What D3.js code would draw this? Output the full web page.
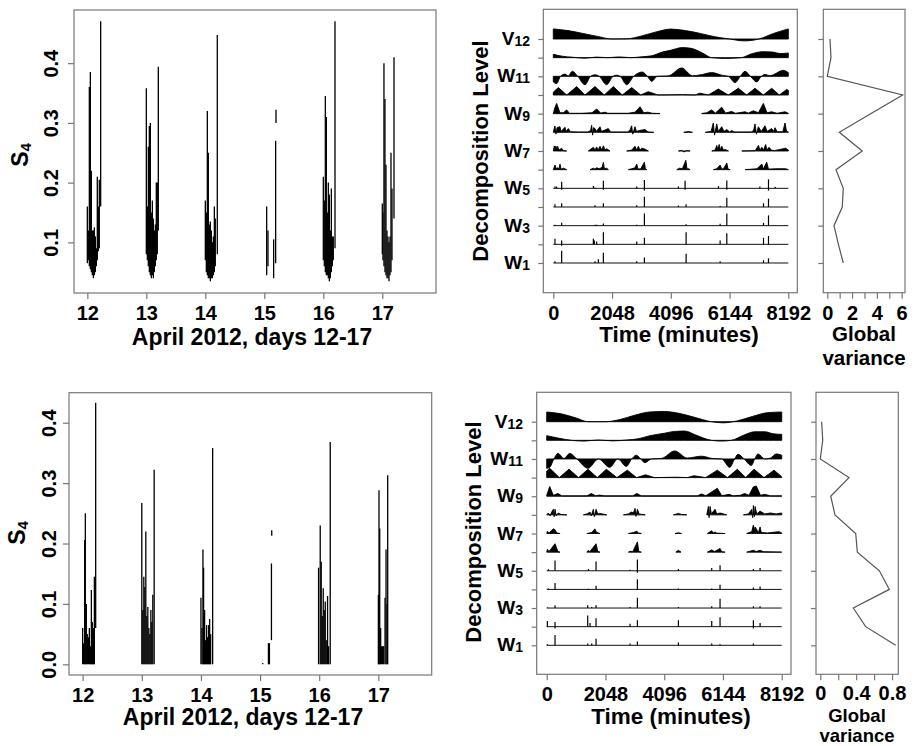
<!doctype html>
<html>
<head>
<meta charset="utf-8">
<title>S4 series and wavelet decomposition</title>
<script src="https://cdn.jsdelivr.net/npm/d3@7"></script>
<style>
  body { margin: 0; background: #fff; }
  svg { display: block; font-family: "Liberation Sans", Arial, sans-serif; font-weight: bold; }
  .frame { fill: none; stroke: #777; stroke-width: 1.2; }
</style>
</head>
<body>
<svg id="fig" width="917" height="746"></svg>
<script>
// ---- S4 series: [day, low, high] envelope columns ----
var s4Top = [
  [12.000,0.065,0.16],[12.017,0.07,0.12],[12.034,0.06,0.36],[12.051,0.055,0.385],[12.068,0.05,0.22],
  [12.085,0.045,0.12],[12.102,0.04,0.12],[12.119,0.045,0.125],[12.136,0.05,0.11],[12.153,0.06,0.09],
  [12.169,0.07,0.21],[12.186,0.085,0.16],[12.203,0.09,0.205],[12.226,0.16,0.47],
  [13.000,0.08,0.358],[13.017,0.07,0.16],[13.034,0.06,0.26],[13.051,0.05,0.295],[13.068,0.045,0.30],
  [13.085,0.04,0.15],[13.102,0.045,0.17],[13.119,0.04,0.14],[13.136,0.05,0.12],[13.153,0.06,0.13],
  [13.169,0.07,0.20],[13.186,0.08,0.20],[13.203,0.12,0.394],
  [14.000,0.07,0.17],[14.017,0.05,0.15],[14.034,0.045,0.32],[14.051,0.04,0.25],[14.068,0.04,0.13],
  [14.085,0.035,0.135],[14.102,0.04,0.12],[14.119,0.04,0.10],[14.136,0.045,0.11],[14.153,0.05,0.16],
  [14.169,0.06,0.14],[14.203,0.08,0.447],
  [15.040,0.045,0.16],[15.062,0.06,0.12],[15.158,0.04,0.105],[15.192,0.065,0.27],[15.198,0.30,0.322],
  [16.000,0.07,0.21],[16.017,0.06,0.17],[16.034,0.05,0.345],[16.051,0.045,0.31],[16.068,0.045,0.15],
  [16.085,0.04,0.20],[16.102,0.035,0.18],[16.119,0.04,0.12],[16.136,0.05,0.19],[16.153,0.06,0.11],
  [16.169,0.07,0.11],[16.198,0.09,0.47],
  [17.000,0.08,0.165],[17.011,0.07,0.15],[17.028,0.06,0.40],[17.045,0.05,0.34],[17.062,0.045,0.23],
  [17.079,0.04,0.12],[17.096,0.04,0.11],[17.113,0.035,0.10],[17.130,0.045,0.11],[17.147,0.05,0.25],
  [17.164,0.07,0.19],[17.198,0.14,0.41]
];
var s4Bottom = [
  [12.000,0,0.06],[12.017,0,0.035],[12.034,0,0.206],[12.045,0,0.25],[12.062,0,0.10],[12.079,0,0.05],
  [12.096,0,0.045],[12.113,0,0.06],[12.130,0,0.03],[12.147,0,0.123],[12.164,0,0.07],[12.181,0,0.06],
  [12.198,0,0.145],[12.220,0.06,0.433],
  [13.000,0,0.267],[13.017,0,0.09],[13.034,0,0.145],[13.051,0,0.128],[13.068,0,0.22],[13.085,0,0.08],
  [13.102,0,0.095],[13.119,0,0.06],[13.136,0,0.05],[13.153,0,0.09],[13.169,0,0.07],[13.186,0,0.115],
  [13.209,0,0.322],
  [14.000,0,0.11],[14.017,0,0.06],[14.034,0,0.19],[14.045,0,0.16],[14.062,0,0.09],[14.079,0,0.04],
  [14.096,0,0.065],[14.113,0,0.045],[14.130,0,0.065],[14.147,0,0.075],[14.164,0,0.05],[14.198,0,0.358],
  [15.045,0,0.002],[15.141,0,0.035],[15.158,0,0.035],[15.192,0.04,0.167],[15.197,0.213,0.222],
  [15.989,0,0.16],[16.017,0,0.23],[16.034,0,0.17],[16.051,0,0.08],[16.068,0,0.126],[16.085,0,0.09],
  [16.102,0,0.104],[16.119,0,0.04],[16.141,0,0.113],[16.158,0,0.03],[16.186,0,0.368],
  [17.000,0,0.115],[17.011,0,0.288],[17.023,0,0.225],[17.039,0,0.06],[17.056,0,0.03],[17.073,0,0.03],
  [17.090,0,0.03],[17.113,0,0.11],[17.130,0,0.19],[17.147,0,0.10],[17.158,0,0.313]
];
var dayTicks = [12, 13, 14, 15, 16, 17];
var s4TicksTop = [0.1, 0.2, 0.3, 0.4];
var s4TicksBottom = [0.0, 0.1, 0.2, 0.3, 0.4];

// ---- multiresolution decomposition rows: [minute, amplitude] (null = no data) ----
var rowNames = ["V12","W12","W11","W10","W9","W8","W7","W6","W5","W4","W3","W2","W1"];
var timeTicks = [0, 2048, 4096, 6144, 8192];

var topV12 = [[0,0.54],[512,0.45],[1024,0.3],[1536,0.14],[2048,0.0],[2560,0.01],[3072,0.16],[3584,0.38],[4096,0.53],[4608,0.45],[5120,0.3],[5632,0.12],[6144,0.0],[6656,-0.1],[7168,0.0],[7680,0.3],[8192,0.54]];
var topW12 = [[0,0.18],[300,0.08],[700,0.02],[1100,-0.03],[1500,0.03],[1900,0.0],[2300,0.04],[2700,0.0],[3100,0.05],[3430,0.1],[3800,0.3],[4100,0.4],[4500,0.54],[4800,0.5],[5200,0.25],[5520,0.0],[6000,-0.04],[6550,0.0],[6900,0.2],[7300,0.32],[7650,0.3],[7900,0.22],[8192,0.25]];
var topW11 = [[0,-0.3],[117,-0.39],[250,0],[408,0.12],[520,0.02],[663,0.27],[850,0],[1105,-0.45],[1300,0],[1453,0.08],[1600,0],[1860,-0.45],[2080,0],[2209,0.06],[2330,0],[2558,-0.45],[2800,0],[3103,0.23],[3280,0],[3430,-0.27],[3620,0],[4000,0.02],[4475,0.45],[4850,0.03],[5200,0.1],[5520,0.2],[5900,0.05],[6100,0],[6334,-0.34],[6520,0],[6682,0.27],[6870,0],[7090,-0.3],[7250,0],[7380,0.1],[7550,0.03],[8018,0.32],[8192,0.2]];
var topW10 = [[0,0.15],[175,0.40],[467,0],[815,0.45],[1105,0],[1453,0.45],[1778,0],[2092,0.45],[2405,0],[2732,0.40],[3046,0],[3312,0.18],[3650,0],[4500,0.02],[4940,0],[5113,0.1],[5404,0],[5752,0.32],[6100,0],[6449,0.36],[6741,0],[7031,0.36],[7321,0],[7612,0.36],[7878,0],[8135,0.3],[8192,0.25]];
var topW9 = [[0,0],[50,0.3],[117,0.55],[230,0.05],[350,0.05],[467,0.2],[560,0.02],[1000,0.02],[1350,0.05],[1512,0.25],[1650,0.03],[1800,0.08],[1900,0.02],[2600,0.02],[2850,0.08],[3022,0.37],[3150,0.05],[3300,0.08],[3450,0.02],[3719,0.01],[3720,null],[5172,0.01],[5350,0.05],[5520,0.2],[5650,0.03],[5870,0.35],[6000,0.03],[6218,0.12],[6350,0.02],[6682,0.1],[6800,0.03],[6973,0.15],[7150,0.05],[7321,0.55],[7450,0.05],[7612,0.1],[7800,0.02],[8077,0.1],[8192,0.02]];
var topW8 = [[0,0],[30,0.2],[58,0.34],[90,-0.1],[130,0.25],[233,0.3],[270,0.05],[407,0.27],[440,0.05],[523,0.2],[600,0.03],[870,0.02],[1200,0.02],[1300,0.1],[1337,0.38],[1370,-0.15],[1400,0.25],[1453,0.2],[1500,0.05],[1627,0.3],[1680,0.05],[1917,0.2],[2000,0.02],[2600,0.02],[2680,0.15],[2730,0.35],[2770,-0.1],[2846,0.3],[2900,0.05],[3000,0.1],[3196,0.15],[3300,0.02],[3500,0],[3501,null],
  [4550,0],[4706,0.04],[4850,0],[4851,null],
  [5300,0],[5500,0.05],[5577,0.5],[5620,-0.15],[5696,0.45],[5750,0.05],[5870,0.3],[5950,0.05],[6044,0.15],[6150,0.02],[6218,0.1],[6300,0.02],[6900,0.02],[6980,0.1],[7031,0.45],[7080,-0.1],[7147,0.3],[7250,0.05],[7380,0.35],[7450,0.05],[7612,0.2],[7680,0.05],[7728,0.25],[7800,0.03],[8000,0.03],[8077,0.5],[8130,0.05],[8192,0.02]];
var topW7 = [[0,0],[35,0.27],[60,0.05],[90,0.27],[120,0.05],[150,0.25],[200,0.05],[291,0.15],[349,0.02],[465,0],[466,null],
  [1221,0],[1396,0.2],[1450,0.05],[1512,0.22],[1560,0.05],[1628,0.25],[1690,0.05],[1745,0.28],[1800,0.05],[1861,0.12],[1977,0],[1978,null],
  [2558,0],[2733,0.05],[2849,0.25],[2900,0.05],[2966,0.25],[3020,0.05],[3082,0.15],[3198,0.1],[3315,0],[3316,null],
  [4361,0],[4478,0.03],[4550,-0.05],[4650,0.02],[4768,0],[4769,null],
  [5524,0],[5641,0.05],[5699,0.3],[5740,0.05],[5780,0.35],[5830,0.05],[5873,0.25],[5931,0.05],[6000,0.08],[6106,0],[6107,null],
  [6571,0],[7036,0.02],[7152,0.3],[7200,0.05],[7270,0.2],[7330,0.05],[7400,0.35],[7450,0.05],[7520,0.2],[7600,0.05],[7700,0.02],[8100,0.15],[8192,0.05]];
var topW6 = [[0,0],[58,0.25],[100,0.05],[150,0.1],[200,0.05],[233,0.3],[270,0.02],[349,0.08],[465,0],[466,null],
  [1279,0],[1396,0.08],[1450,0.03],[1512,0.1],[1600,0.05],[1700,0.12],[1745,0.4],[1780,0.05],[1861,0.08],[1919,0],[1920,null],
  [2617,0],[2733,0.05],[2850,0.1],[2908,0.3],[2950,0.03],[3050,0.05],[3175,0.4],[3210,0.03],[3256,0],[3257,null],
  [4303,0],[4400,0.08],[4500,0.05],[4620,0.5],[4660,0.03],[4710,0.05],[4768,0],[4769,null],
  [5582,0],[5700,0.05],[5815,0.25],[5870,0.03],[5931,0.05],[6048,0.35],[6090,0.03],[6164,0],[6165,null],
  [6687,0],[7100,0.05],[7270,0.3],[7320,0.03],[7438,0.4],[7500,0.03],[7800,0.05],[8100,0.05],[8192,0]];
var topW5 = [[58,0.1],[116,0.1],[291,0.35],[291,-0.08],[1396,0.12],[1454,0.05],[1745,0.4],[1745,-0.08],[2908,0.1],[3175,0.45],[3175,-0.12],[4361,0.1],[4594,0.4],[4594,-0.08],[5757,0.12],[6048,0.42],[6048,-0.08],[7200,0.1],[7501,0.48],[7501,-0.12],[7734,0.08]];
var topW4 = [[58,0.15],[291,0.2],[1454,0.1],[1745,0.2],[2908,0.1],[3175,0.55],[4361,0.08],[4629,0.15],[5815,0.05],[6048,0.5],[7327,0.2],[7501,0.45]];
var topW3 = [[58,0.05],[291,0.15],[1454,0.05],[1512,0.05],[1745,0.12],[2908,0.05],[3175,0.65],[4629,0.08],[5815,0.1],[6048,0.65],[7327,0.15],[7501,0.55]];
var topW2 = [[58,0.3],[291,0.2],[291,-0.08],[1396,0.3],[1430,0.2],[1512,0.15],[1745,0.65],[2908,0.15],[3175,0.35],[4629,0.65],[5815,0.2],[6048,0.6],[7327,0.35],[7501,0.45]];
var topW1 = [[58,0.1],[291,0.65],[1454,0.1],[1570,0.2],[1745,0.55],[2908,0.1],[3175,0.3],[4629,0.5],[5815,0.1],[7327,0.15],[7501,0.25]];

var botV12 = [[0,0.52],[512,0.42],[1024,0.2],[1440,0.0],[2048,0.0],[2560,0.12],[3072,0.35],[3584,0.52],[4096,0.55],[4608,0.45],[5120,0.25],[5738,0.0],[6144,-0.06],[6656,0.05],[7168,0.28],[7680,0.48],[8192,0.52]];
var botW12 = [[0,0.25],[400,0.12],[858,0],[1300,-0.04],[1800,0.02],[2300,-0.03],[2800,0.02],[3182,0.08],[3600,0.25],[4100,0.38],[4462,0.48],[4810,0.5],[5200,0.28],[5738,0],[6100,-0.04],[6435,0],[6900,0.3],[7250,0.46],[7600,0.46],[7900,0.35],[8192,0.32]];
var botW11 = [[0,-0.5],[104,-0.45],[250,0],[394,0.3],[600,0.02],[801,0.3],[1050,0],[1440,-0.5],[1800,0],[2196,-0.45],[2480,0],[2776,-0.4],[2960,0],[3125,0.2],[3280,0],[3416,-0.2],[3650,0],[4000,0.03],[4462,0.43],[4900,0.05],[5390,0.15],[5800,0.02],[6100,0],[6378,-0.45],[6550,0],[6668,0.25],[6880,0],[7132,-0.35],[7250,0],[7365,0.27],[7600,0],[7800,0.05],[8003,0.27],[8192,0.2]];
var botW10 = [[0,0.35],[104,0.5],[440,0],[777,0.45],[1110,0],[1440,0.45],[1760,0],[2080,0.45],[2445,0],[2810,0.4],[3130,0],[3450,0.15],[3750,0],[4500,0.02],[4900,0],[5134,0.1],[5540,0],[5947,0.4],[6300,0],[6644,0.45],[6935,0],[7226,0.45],[7575,0],[7923,0.4],[8192,0.05]];
var botW9 = [[0,0.05],[104,0.52],[230,0.05],[394,0.15],[520,0.02],[1400,0.02],[1556,0.15],[1700,0.03],[1850,0.06],[2000,0.02],[3000,0.02],[3137,0.15],[3300,0.02],[5250,0.02],[5390,0.12],[5550,0.03],[5947,0.43],[6100,0.03],[6360,0.1],[6500,0.02],[6750,0.05],[6900,0.15],[7050,0.05],[7200,0.5],[7306,0.55],[7450,0.05],[7597,0.1],[7800,0.02],[8192,0.02]];
var botW8 = [[0,0],[58,0.1],[120,-0.05],[174,0.15],[233,0.3],[260,-0.1],[290,0.3],[330,-0.05],[400,0.1],[500,0.02],[700,0],[701,null],
  [1278,0],[1400,0.05],[1511,0.15],[1550,-0.05],[1627,0.3],[1660,-0.1],[1720,0.3],[1780,0.05],[1850,0.08],[2092,0],[2093,null],
  [2673,0],[2847,0.05],[2950,0.15],[3021,0.1],[3079,0.35],[3110,-0.08],[3161,0.3],[3220,0.05],[3433,0],[3434,null],
  [4416,0],[4532,0.05],[4590,0.08],[4700,0.02],[4881,0],[4882,null],
  [5578,0],[5636,0.45],[5660,-0.15],[5694,0.45],[5740,0.05],[5868,0.3],[5931,0.05],[6042,0.1],[6275,0],[6276,null],
  [6856,0],[7030,0.05],[7146,0.3],[7180,-0.15],[7204,0.5],[7240,-0.1],[7263,0.45],[7320,0.05],[7437,0.2],[7600,0.05],[7800,0.1],[8000,0.05],[8192,0.1]];
var botW7 = [[0,0],[23,0.12],[80,0.03],[233,0.25],[290,0.2],[349,0.03],[465,0],[466,null],
  [1400,0],[1569,0.05],[1680,0.25],[1720,0.1],[1800,0.03],[1859,0],[1860,null],
  [2850,0],[3021,0.05],[3137,0.12],[3200,0.03],[3300,0],[3301,null],
  [4470,0],[4590,0.04],[4700,0],[4701,null],
  [5600,0],[5752,0.15],[5800,0.03],[5868,0.08],[5931,0.02],[6217,0],[6218,null],
  [6972,0],[7146,0.1],[7204,0.45],[7240,0.15],[7263,0.35],[7321,0.2],[7380,0.05],[7437,0.35],[7480,0.05],[7700,0.03],[8100,0.1],[8192,0.03]];
var botW6 = [[0,0],[23,0.15],[80,0.03],[290,0.45],[349,0.2],[400,0.02],[465,0],[466,null],
  [1400,0],[1453,0.1],[1500,0.02],[1720,0.45],[1780,0.03],[1859,0],[1860,null],
  [2850,0],[2905,0.05],[3000,0.02],[3161,0.55],[3210,0.03],[3300,0],[3301,null],
  [4500,0],[4590,0.1],[4680,0],[4681,null],
  [5600,0],[5752,0.12],[5850,0.03],[6042,0.2],[6100,0.02],[6217,0],[6218,null],
  [6972,0],[7204,0.1],[7300,0.03],[7437,0.1],[7550,0.02],[8192,0]];
var botW5 = [[58,0.08],[290,0.55],[1453,0.1],[1720,0.5],[2905,0.05],[3161,0.6],[3161,-0.1],[4590,0.1],[5752,0.15],[6042,0.3],[7204,0.1],[7437,0.15]];
var botW4 = [[58,0.05],[290,0.35],[1453,0.03],[1720,0.2],[3161,0.55],[4590,0.05],[5752,0.05],[6042,0.25],[7204,0.1],[7437,0.15]];
var botW3 = [[23,0.03],[290,0.15],[1429,0.15],[1569,0.05],[1720,0.15],[2905,0.05],[3161,0.55],[4590,0.05],[5752,0.1],[6042,0.5],[7204,0.1],[7437,0.1]];
var botW2 = [[23,0.3],[290,0.25],[290,-0.1],[1429,0.6],[1511,0.2],[1720,0.45],[2905,0.15],[3161,0.35],[4590,0.35],[5752,0.3],[6042,0.5],[7204,0.35],[7204,-0.1],[7437,0.2]];
var botW1 = [[23,0.05],[290,0.55],[1429,0.1],[1569,0.1],[1720,0.35],[2905,0.1],[3161,0.2],[4590,0.15],[5752,0.1],[6042,0.05],[7204,0.1]];

var topRows = [topV12, topW12, topW11, topW10, topW9, topW8, topW7, topW6, topW5, topW4, topW3, topW2, topW1];
var botRows = [botV12, botW12, botW11, botW10, botW9, botW8, botW7, botW6, botW5, botW4, botW3, botW2, botW1];

// ---- global variance per level (V12 ... W1) ----
var gvTop = [0.22, 0.30, 0.0, 6.08, 3.5, 0.97, 2.82, 0.70, 1.29, 1.21, 0.54, 0.9, 1.29];
var gvBottom = [0.015, 0.027, 0.0, 0.32, 0.116, 0.164, 0.395, 0.413, 0.659, 0.77, 0.368, 0.506, 0.841];
var gvTicksTop = [0, 1, 2, 3, 4, 5, 6];
var gvTicksBottom = [0, 0.2, 0.4, 0.6, 0.8];

var frameColor = "#777";
var svg = d3.select("#fig");

function styleAxis(ax, labelY) {
  ax.attr("font-family", null).attr("font-size", null);
  ax.select(".domain").remove();
  ax.selectAll(".tick line").attr("stroke", frameColor).attr("stroke-width", 1.2);
  ax.selectAll(".tick text").attr("fill", "#000").style("font-size", "20px");
  if (labelY != null) ax.selectAll(".tick text").attr("y", labelY).attr("dy", null);
}

function frame(f) {
  svg.append("rect").attr("class", "frame")
    .attr("x", f.x0).attr("y", f.y0).attr("width", f.x1 - f.x0).attr("height", f.y1 - f.y0);
}

function title(txt, x, y, size) {
  svg.append("text").attr("x", x).attr("y", y).attr("text-anchor", "middle")
    .style("font-size", (size || 22.5) + "px").text(txt);
}

function vtitle(x, y, main, sub, size) {
  var t = svg.append("text").attr("transform", "translate(" + x + "," + y + ") rotate(-90)")
    .attr("text-anchor", "middle").style("font-size", size + "px");
  t.append("tspan").text(main);
  if (sub) t.append("tspan").attr("dy", 3).style("font-size", "15px").text(sub);
}

// ---- S4 panels ----
function s4Panel(f, xDom, yDom, segs, yTicks, yLabOff) {
  var x = d3.scaleLinear().domain(xDom).range([f.x0, f.x1]);
  var y = d3.scaleLinear().domain(yDom).range([f.y1, f.y0]);
  svg.append("g").selectAll("line").data(segs).join("line")
    .attr("x1", function(d) { return x(d[0]); }).attr("x2", function(d) { return x(d[0]); })
    .attr("y1", function(d) { return y(d[1]); }).attr("y2", function(d) { return y(d[2]); })
    .attr("stroke", "#000").attr("stroke-width", 1.3);
  frame(f);
  var xa = svg.append("g").attr("transform", "translate(0," + f.y1 + ")")
    .call(d3.axisBottom(x).tickValues(dayTicks).tickSize(6).tickFormat(d3.format("d")));
  styleAxis(xa, 27);
  var ya = svg.append("g").attr("transform", "translate(" + f.x0 + ",0)")
    .call(d3.axisLeft(y).tickValues(yTicks).tickSize(6).tickFormat(d3.format(".1f")));
  styleAxis(ya);
  ya.selectAll(".tick text").attr("x", 0).attr("dy", null).attr("y", -yLabOff)
    .attr("transform", "rotate(-90)").attr("text-anchor", "middle");
}

// ---- decomposition panels ----
var smoothRows = { V12: true, W12: true, W11: true };
var spikeRows = { W5: true, W4: true, W3: true, W2: true, W1: true };

function mraPanel(f, xDom, rowRange, rows, labelX) {
  var x = d3.scaleLinear().domain(xDom).range([f.x0, f.x1]);
  var ry = d3.scalePoint().domain(rowNames).range(rowRange);
  var step = ry.step();
  var g = svg.append("g");
  rowNames.forEach(function(name, i) {
    var base = ry(name);
    var data = rows[i];
    if (spikeRows[name]) {
      g.append("line").attr("x1", x(0)).attr("x2", x(8192)).attr("y1", base).attr("y2", base)
        .attr("stroke", "#111").attr("stroke-width", 1);
      g.append("g").selectAll("line").data(data).join("line")
        .attr("x1", function(d) { return x(d[0]); }).attr("x2", function(d) { return x(d[0]); })
        .attr("y1", base).attr("y2", function(d) { return base - d[1] * step; })
        .attr("stroke", "#000").attr("stroke-width", 1.2);
    } else {
      var area = d3.area()
        .defined(function(d) { return d[1] != null; })
        .x(function(d) { return x(d[0]); })
        .y0(base)
        .y1(function(d) { return base - d[1] * step; })
        .curve(smoothRows[name] ? d3.curveMonotoneX : d3.curveLinear);
      g.append("path").attr("d", area(data))
        .attr("fill", "#000").attr("stroke", "#000").attr("stroke-width", 0.9).attr("stroke-linejoin", "round");
    }
  });
  frame(f);
  var xa = svg.append("g").attr("transform", "translate(0," + f.y1 + ")")
    .call(d3.axisBottom(x).tickValues(timeTicks).tickSize(6).tickFormat(d3.format("d")));
  styleAxis(xa, 27);
  var ya = svg.append("g").attr("transform", "translate(" + f.x0 + ",0)")
    .call(d3.axisLeft(ry).tickSize(5).tickFormat(""));
  styleAxis(ya);
  // level labels on every other row
  rowNames.forEach(function(name, i) {
    if (i % 2) return;
    var t = svg.append("text").attr("x", labelX).attr("y", ry(name) + 6)
      .attr("text-anchor", "end").style("font-size", "19px");
    t.append("tspan").text(name.charAt(0));
    t.append("tspan").attr("dy", 1).style("font-size", "14px").text(name.slice(1));
  });
}

function gvPanel(f, xDom, rowRange, vals, ticks, fmt, labelY) {
  var x = d3.scaleLinear().domain(xDom).range([f.x0, f.x1]);
  var ry = d3.scalePoint().domain(rowNames).range(rowRange);
  var line = d3.line().x(function(d) { return x(d); })
    .y(function(d, i) { return ry(rowNames[i]); });
  svg.append("path").attr("d", line(vals)).attr("fill", "none")
    .attr("stroke", "#555").attr("stroke-width", 1.2);
  frame(f);
  var xa = svg.append("g").attr("transform", "translate(0," + f.y1 + ")")
    .call(d3.axisBottom(x).tickValues(ticks).tickSize(6).tickFormat(fmt));
  styleAxis(xa, labelY);
  var ya = svg.append("g").attr("transform", "translate(" + f.x0 + ",0)")
    .call(d3.axisLeft(ry).tickValues(rowNames.filter(function(r, i) { return i % 2 === 0; }))
      .tickSize(5).tickFormat(""));
  styleAxis(ya);
}

// top row
s4Panel({x0: 74, x1: 436, y0: 10, y1: 293}, [11.774, 17.91], [0.0152, 0.489], s4Top, s4TicksTop, 16);
vtitle(28, 155, "S", "4", 23);
title("April 2012, days 12-17", 252, 345, 23);

mraPanel({x0: 543.3, x1: 797.3, y0: 9.3, y1: 292.7}, [-349, 8505], [39, 263], topRows, 530);
vtitle(488, 151, "Decomposition Level", null, 22);
title("Time (minutes)", 679, 342);

gvPanel({x0: 823.3, x1: 905, y0: 9.3, y1: 292.7}, [-0.32, 6.27], [39, 263], gvTop, gvTicksTop,
  function(d) { return d % 2 === 0 ? d : ""; }, 27);
title("Global", 864, 341, 20.5);
title("variance", 864, 364.5, 20.5);

// bottom row
s4Panel({x0: 69, x1: 431.7, y0: 392.7, y1: 675}, [11.769, 17.902], [-0.0177, 0.4497], s4Bottom, s4TicksBottom, 13);
vtitle(25, 533, "S", "4", 23);
title("April 2012, days 12-17", 243, 725, 23);

mraPanel({x0: 536.7, x1: 791, y0: 392.3, y1: 674.3}, [-349, 8515], [421.7, 645.3], botRows, 523);
vtitle(480.5, 532, "Decomposition Level", null, 22);
title("Time (minutes)", 671, 724);

gvPanel({x0: 816, x1: 898.3, y0: 392.3, y1: 674.3}, [-0.048, 0.87], [421.7, 645.3], gvBottom, gvTicksBottom,
  function(d) { return Math.abs(d - 0.2) < 1e-9 || Math.abs(d - 0.6) < 1e-9 ? "" : (d === 0 ? "0" : d3.format(".1f")(d)); }, 25.7);
title("Global", 857, 721.5, 18.5);
title("variance", 857, 741.8, 18.5);
</script>
</body>
</html>
